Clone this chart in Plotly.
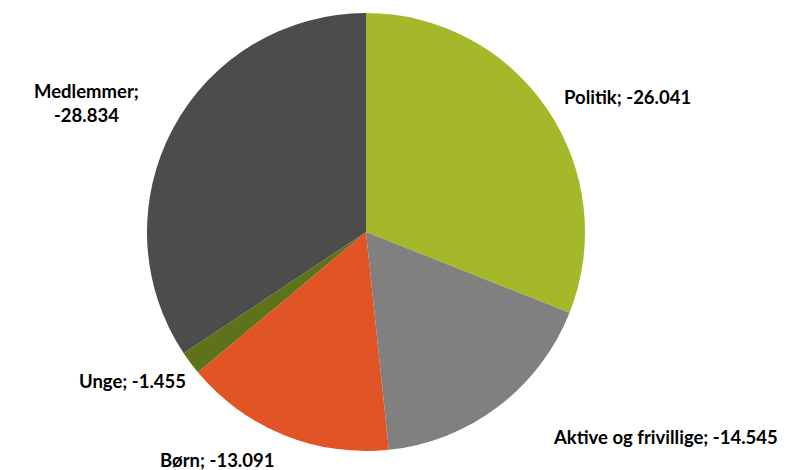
import plotly.graph_objects as go

labels = ["Politik", "Aktive og frivillige", "Børn", "Unge", "Medlemmer"]
values = [-26.041, -14.545, -13.091, -1.455, -28.834]
colors = ["#A5B829", "#808080", "#E05426", "#5E7219", "#4C4C4C"]
label_texts = ["Politik; -26.041", "Aktive og frivillige; -14.545", "Børn; -13.091",
               "Unge; -1.455", "Medlemmer;<br>-28.834"]

# page body has an 8px margin; figure coordinates are screen coordinates minus 8
OFF = 8
W, H = 795 - OFF, 470 - OFF
# label anchor positions in screen pixels (x, y from top)
label_pos = [(627, 97), (665, 437), (217, 460), (132, 381), (86, 103)]
cx, cy, r = 366 - OFF, 232 - OFF, 219

fig = go.Figure(go.Pie(
    labels=labels,
    values=[abs(v) for v in values],
    marker=dict(colors=colors, line=dict(color="white", width=0)),
    sort=False,
    direction="clockwise",
    rotation=0,
    textinfo="none",
    hoverinfo="label+value",
    domain=dict(x=[(cx - r) / W, (cx + r) / W], y=[1 - (cy + r) / H, 1 - (cy - r) / H]),
))

for t, (px, py) in zip(label_texts, label_pos):
    fig.add_annotation(x=(px - OFF) / W, y=1 - (py - OFF) / H, xref="paper", yref="paper",
                       text="<b>" + t + "</b>", showarrow=False,
                       xanchor="center", yanchor="middle",
                       font=dict(family="Lato", size=18.5, color="#000000"))

fig.update_layout(
    width=W, height=H,
    margin=dict(l=0, r=0, t=0, b=0),
    showlegend=False,
    paper_bgcolor="white",
    plot_bgcolor="white",
    font=dict(family="Lato", size=18, color="#000000"),
)

fig.write_html("out.html")
